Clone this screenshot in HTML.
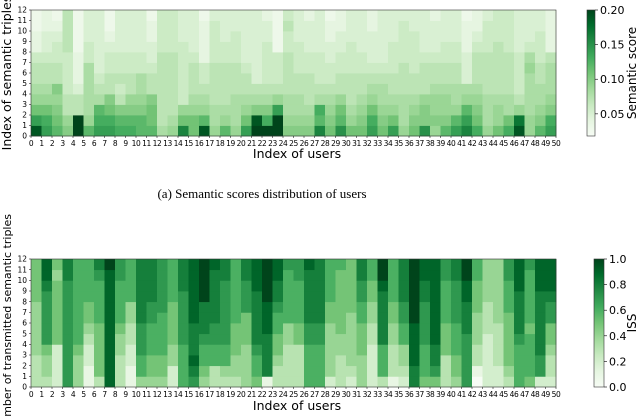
<!DOCTYPE html>
<html><head><meta charset="utf-8"><style>
body{margin:0;background:#fff;overflow:hidden;}
svg{display:block;font-family:"DejaVu Sans","Liberation Sans",sans-serif;}
</style></head><body>
<svg id="chart" width="640" height="417" viewBox="0 0 640 417">
<defs>
<linearGradient id="g" x1="0" y1="1" x2="0" y2="0">
<stop offset="0" stop-color="#f7fcf5"/><stop offset="0.125" stop-color="#e5f5e0"/><stop offset="0.25" stop-color="#c7e9c0"/><stop offset="0.375" stop-color="#a1d99b"/><stop offset="0.5" stop-color="#74c476"/><stop offset="0.625" stop-color="#41ab5d"/><stop offset="0.75" stop-color="#238b45"/><stop offset="0.875" stop-color="#006d2c"/><stop offset="1" stop-color="#00441b"/>
</linearGradient>
</defs>
<g id="top"></g>
<g id="bot"></g>
<text x="262" y="198" text-anchor="middle" font-family="Liberation Serif,serif" font-size="13">(a) Semantic scores distribution of users</text>
</svg>
<script>
// Semantic score (x100), per user column, rows 0..11 (bottom to top)
const topScores=[
[19,14,11,9,8,7,7,6,4,4,3,3],[14,13,11,9,8,7,7,6,5,5,4,4],[12,11,10,9,10,7,7,6,6,5,4,3],[10,9,7,7,6,6,6,6,7,7,7,7],
[20,20,7,7,5,4,4,4,3,3,3,3],[12,9,8,8,8,8,8,6,6,5,5,5],[14,13,12,8,7,6,5,5,5,5,5,5],[14,13,11,10,7,7,6,6,5,4,3,3],
[13,12,10,7,6,7,6,6,5,5,5,5],[13,12,10,9,7,7,6,6,5,5,5,5],[12,12,10,9,8,8,6,6,5,5,5,5],[12,11,11,10,7,7,6,5,5,4,4,3],
[8,7,7,7,7,7,7,7,6,6,6,6],[9,8,7,7,7,7,7,7,6,6,6,6],[16,11,9,6,6,6,6,6,6,5,5,5],[11,11,9,8,7,7,7,6,5,5,5,5],
[19,12,9,8,7,6,6,4,4,4,4,3],[9,8,8,7,7,7,7,6,6,6,6,5],[12,9,8,7,7,7,7,6,6,5,5,5],[9,8,8,8,7,7,7,6,6,6,5,5],
[14,11,9,8,7,7,6,5,5,5,5,5],[20,19,10,8,7,5,5,5,5,5,5,5],[20,13,10,8,7,6,6,6,6,5,5,4],[20,20,14,9,7,6,6,6,3,3,3,3],
[10,9,8,8,7,7,7,7,6,6,7,6],[10,9,8,8,7,7,6,6,6,5,5,5],[10,9,8,7,7,7,6,6,5,5,5,4],[16,12,13,8,7,6,6,6,5,5,5,5],
[11,10,9,8,7,6,6,5,5,4,4,3],[15,12,11,9,7,7,6,6,5,5,4,4],[11,9,8,7,7,7,6,6,6,5,5,5],[11,10,9,8,7,7,6,6,5,5,5,5],
[14,13,11,9,8,7,6,5,5,5,4,4],[11,10,9,8,8,7,6,5,5,5,5,5],[14,11,9,8,7,7,6,6,6,5,5,5],[9,8,8,8,7,7,7,6,6,6,6,5],
[11,10,9,8,7,7,6,6,6,6,5,5],[15,10,10,9,7,7,7,6,5,5,5,5],[9,10,9,9,8,7,7,6,5,5,5,4],[12,10,9,9,8,7,7,6,6,5,5,5],
[14,12,9,8,8,7,7,6,6,5,5,5],[16,14,12,9,8,5,5,5,4,4,4,3],[13,11,10,9,8,7,7,7,6,5,4,4],[9,8,8,8,7,7,7,7,6,6,6,5],
[11,9,9,8,7,7,7,7,7,6,6,6],[13,11,8,8,7,7,7,7,6,6,6,6],[19,17,9,7,6,6,6,6,5,5,5,5],[9,9,8,8,8,8,9,8,6,5,5,5],
[12,10,9,8,8,7,7,6,6,6,5,5],[14,13,10,9,8,8,8,7,4,4,4,4]];
// ISS (x10), per user column, rows 0..11
const issScores=[
[3,3,3,4,4,4,4,4,5,5,5,5],[3,4,4,5,7,7,7,7,7,8,9,9],[2,2,2,2,5,5,5,5,5,5,4,5],[7,7,7,7,7,7,7,7,7,7,8,8],
[4,4,4,5,6,6,6,6,6,6,6,6],[1,1,2,2,3,4,5,5,6,6,6,6],[3,5,5,5,5,5,6,6,6,6,7,8],[9,9,9,9,9,9,9,9,9,9,9,10],
[3,3,3,4,4,5,6,6,6,6,7,7],[1,1,2,2,3,3,4,4,6,6,6,6],[4,6,6,7,7,7,8,8,8,8,8,8],[4,5,5,6,6,6,7,7,8,8,8,8],
[4,5,5,6,6,6,6,7,7,7,7,7],[2,2,4,4,5,5,5,5,6,6,6,6],[6,6,6,6,7,7,7,7,7,8,8,8],[7,8,9,8,8,8,9,9,9,9,9,9],
[4,5,6,6,7,8,8,8,10,10,10,10],[3,3,6,6,7,7,8,8,8,8,8,9],[3,4,6,6,7,7,7,7,7,7,8,8],[3,4,4,5,5,5,6,6,6,6,6,6],
[4,4,4,4,5,5,5,7,7,7,8,8],[5,6,6,7,8,8,8,8,8,9,9,9],[1,8,8,8,8,9,9,9,10,10,10,10],[3,3,4,5,5,6,6,7,8,8,9,9],
[3,3,3,3,4,4,6,6,6,6,6,7],[3,3,3,3,5,5,6,6,6,6,7,7],[6,6,6,6,7,7,8,8,8,8,8,9],[6,6,6,6,7,7,8,8,8,8,8,8],
[2,4,4,4,4,4,5,5,6,6,6,6],[3,3,3,4,4,5,5,5,5,5,5,6],[2,3,4,4,4,4,4,5,5,5,5,5],[4,4,4,5,5,5,6,6,7,7,8,8],
[2,2,2,2,3,3,4,4,5,5,6,6],[3,6,6,6,8,8,8,8,8,9,10,10],[1,3,3,3,4,4,5,5,6,6,6,6],[2,3,4,4,6,6,7,7,8,8,8,8],
[8,8,9,9,9,9,10,10,10,10,10,10],[5,6,6,6,7,7,7,7,8,8,9,9],[5,7,8,8,9,9,9,9,9,9,9,9],[3,3,3,5,5,5,6,6,6,6,7,7],
[4,5,5,6,6,6,7,7,7,7,8,8],[7,7,7,7,7,8,8,8,9,9,10,10],[0,1,3,3,4,4,4,5,5,5,6,6],[2,2,2,2,2,3,3,3,4,4,4,4],
[2,2,3,3,3,3,4,4,4,4,4,4],[3,4,5,5,5,5,5,6,6,6,7,7],[6,6,6,6,7,8,8,8,8,9,9,9],[5,6,6,6,6,5,6,6,6,6,6,7],
[2,7,7,8,8,8,8,8,8,9,9,9],[2,3,3,4,5,5,7,7,8,9,9,9]];
const topTicks=["0.05","0.10","0.15","0.20"];
const topTickVals=[0.05,0.10,0.15,0.20];
const botTicks=["0.0","0.2","0.4","0.6","0.8","1.0"];
const botTickVals=[0,0.2,0.4,0.6,0.8,1.0];

const NS="http://www.w3.org/2000/svg";
const stops=[[247,252,245],[229,245,224],[199,233,192],[161,217,155],[116,196,118],[65,171,93],[35,139,69],[0,109,44],[0,68,27]];
function cmap(t){t=Math.max(0,Math.min(1,t));const p=t*8,i=Math.min(7,Math.floor(p)),f=p-i;const a=stops[i],b=stops[i+1];
return "rgb("+a.map((v,k)=>Math.round(v+(b[k]-v)*f)).join(",")+")";}
function mk(parent,tag,attrs,text){const e=document.createElementNS(NS,tag);for(const k in attrs)e.setAttribute(k,attrs[k]);if(text!==undefined)e.textContent=text;parent.appendChild(e);return e;}

function heat(g,data,scale,vmin,vmax,L,R,T,B,cbx,cbw,ticks,tickVals,cbLabel,yLabel,xLabelY,yFont){
  const nc=data.length,nr=12,cw=(R-L)/nc,rh=(B-T)/nr;
  const xs=c=>L+c*cw, ys=r=>B-(r+1)*rh;
  data.forEach((col,c)=>col.forEach((v,r)=>{
    const val=v*scale;
    const e=mk(g,"rect",{x:xs(c).toFixed(2),y:ys(r).toFixed(2),width:(cw+0.4).toFixed(2),height:(rh+0.4).toFixed(2),fill:cmap((val-vmin)/(vmax-vmin))});
    
    
  }));
  mk(g,"rect",{x:L,y:T,width:R-L,height:B-T,fill:"none",stroke:"#333","stroke-width":0.6});
  for(let c=0;c<=nc;c++){const x=L+c*cw;mk(g,"line",{x1:x,y1:B,x2:x,y2:B+2,stroke:"#000","stroke-width":0.5});
    const t=mk(g,"text",{x:x,y:B+10,"text-anchor":"middle","font-size":7.5,"letter-spacing":-0.4},String(c));
    
    }
  for(let r=0;r<=nr;r++){const y=B-r*rh;mk(g,"line",{x1:L-2,y1:y,x2:L,y2:y,stroke:"#000","stroke-width":0.5});
    const t=mk(g,"text",{x:L-4,y:y+2.7,"text-anchor":"end","font-size":7.5},String(r));
    
    }
  const xl=mk(g,"text",{x:297,y:xLabelY,"text-anchor":"middle","font-size":12.5},"Index of users");
  
  
  const yl=mk(g,"text",{x:0,y:0,"text-anchor":"middle","font-size":yFont,transform:"translate(11,"+((T+B)/2)+") rotate(-90)"},yLabel);
  
  
  const cb=mk(g,"rect",{x:cbx,y:T,width:cbw,height:B-T,fill:"url(#g)",stroke:"#333","stroke-width":0.6});
  
  
  tickVals.forEach((v,i)=>{const y=B-(v-vmin)/(vmax-vmin)*(B-T);
    mk(g,"line",{x1:cbx+cbw,y1:y,x2:cbx+cbw+3,y2:y,stroke:"#000","stroke-width":0.6});
    const t=mk(g,"text",{x:cbx+cbw+5,y:y+4,"font-size":11},ticks[i]);
    
    });
  const cl=mk(g,"text",{x:0,y:0,"text-anchor":"middle","font-size":12,transform:"translate(636,"+((T+B)/2)+") rotate(-90)"},cbLabel);
  
  
}
heat(document.getElementById("top"),topScores,0.01,0.018,0.20,31,556,10,136,587,8,topTicks,topTickVals,"Semantic score","Index of semantic triples",158,12.5);
heat(document.getElementById("bot"),issScores,0.1,0,1,31,556,259,387,594,10,botTicks,botTickVals,"ISS","Number of transmitted semantic triples",410,11);
</script>
</body></html>
